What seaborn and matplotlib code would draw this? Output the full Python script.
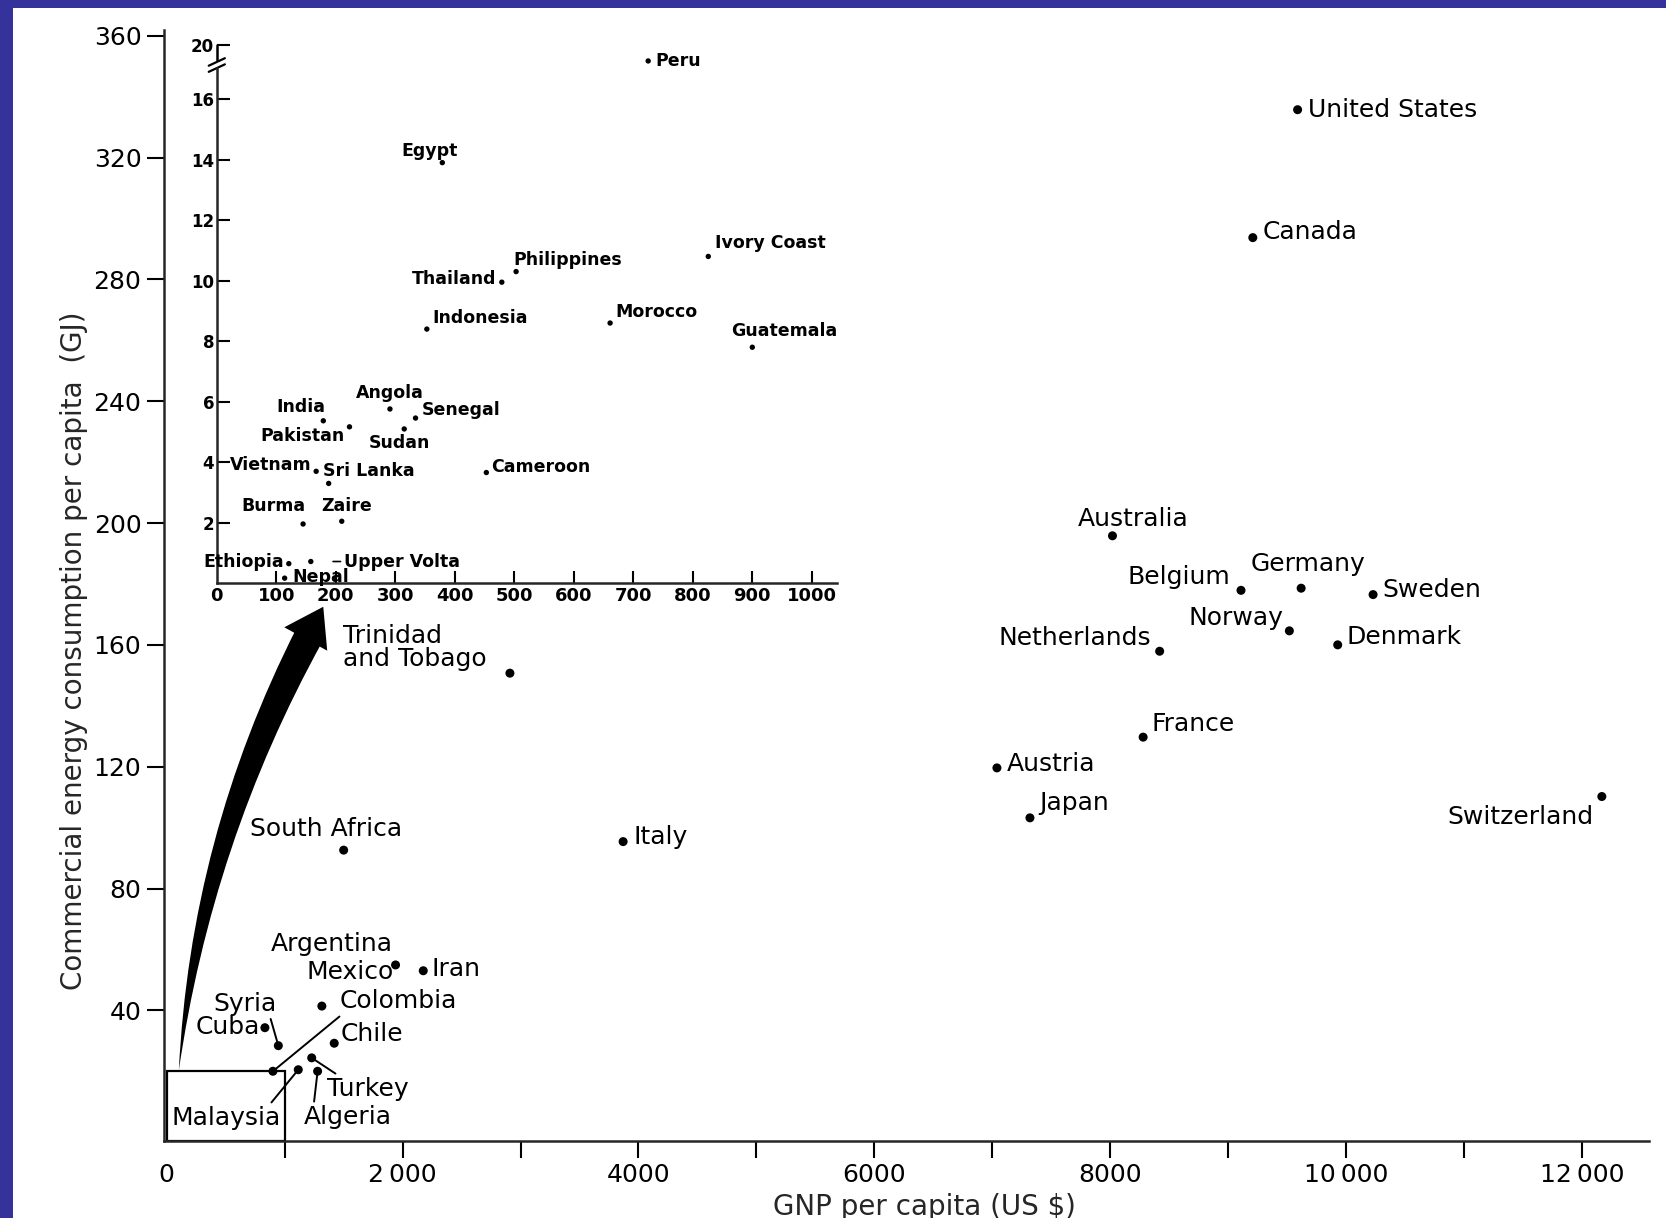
import numpy as np
import pandas as pd
import matplotlib
matplotlib.use("Agg")
import matplotlib.pyplot as plt
import matplotlib.transforms as mtransforms
from matplotlib.patches import Rectangle, FancyArrowPatch
from matplotlib.lines import Line2D
import seaborn as sns

# ---- data: GNP per capita (US $) vs commercial energy use per capita (GJ) ----
main_countries = ["United States", "Canada", "Australia", "Belgium", "Germany", "Sweden",
                  "Norway", "Netherlands", "Denmark", "France", "Austria", "Japan",
                  "Switzerland", "Trinidad\nand Tobago", "Italy", "South Africa",
                  "Argentina", "Iran", "Mexico", "Colombia", "Syria", "Cuba", "Chile",
                  "Turkey", "Algeria", "Malaysia"]
main_gnp = [9590, 9210, 8020, 9110, 9620, 10230, 9520, 8420, 9930, 8280, 7040, 7320,
            12170, 2910, 3870, 1500, 1940, 2175, 1315, 900, 946, 832, 1420, 1229, 1279, 1115]
main_energy = [335.7, 293.7, 195.8, 177.9, 178.6, 176.5, 164.6, 157.9, 160.0, 129.7,
               119.6, 103.2, 110.2, 150.7, 95.4, 92.6, 54.9, 53.0, 41.4, 20.0, 28.4,
               34.3, 29.2, 24.4, 20.0, 20.5]

low_countries = ["Peru", "Egypt", "Ivory Coast", "Philippines", "Thailand", "Indonesia",
                 "Morocco", "Guatemala", "Angola", "Senegal", "India", "Pakistan", "Sudan",
                 "Vietnam", "Sri Lanka", "Cameroon", "Burma", "Zaire", "Ethiopia",
                 "Upper Volta", "Nepal"]
low_gnp = [725, 379, 826, 503, 479, 353, 661, 900, 291, 334, 179, 223, 315, 167, 188,
           453, 145, 210, 121, 158, 114]
low_energy = [18.8, 13.9, 10.8, 10.3, 9.95, 8.4, 8.6, 7.8, 5.76, 5.46, 5.37, 5.17, 5.1,
              3.7, 3.3, 3.66, 1.96, 2.05, 0.65, 0.72, 0.17]

main_xticks = [0, 2000, 4000, 6000, 8000, 10000, 12000]
main_xticklabels = ["0", "2\u2009000", "4000", "6000", "8000", "10\u2009000", "12\u2009000"]
main_yticks = [40, 80, 120, 160, 200, 240, 280, 320, 360]
inset_xticks = list(range(0, 1001, 100))
inset_yticks = [2, 4, 6, 8, 10, 12, 14, 16, 20]

main_df = pd.DataFrame({"country": main_countries, "gnp": main_gnp, "energy": main_energy})
low_df = pd.DataFrame({"country": low_countries, "gnp": low_gnp, "energy": low_energy})

# label placement: offset in pixels from the point, horizontal alignment
main_label_pos = {
    "United States": (10.6, 0, "left"), "Canada": (9.6, 5.3, "left"),
    "Australia": (21, 17, "center"), "Belgium": (-10.6, 13, "right"),
    "Germany": (6.4, 24, "center"), "Sweden": (9.6, 4.3, "left"),
    "Norway": (-6.4, 13, "right"), "Netherlands": (-8.5, 13, "right"),
    "Denmark": (8.5, 7.4, "left"), "France": (8.5, 13, "left"),
    "Austria": (9.6, 4.3, "left"), "Japan": (9.6, 15, "left"),
    "Switzerland": (-8.5, -20, "right"), "Trinidad\nand Tobago": (-167, 26, "left"),
    "Italy": (10.6, 4.3, "left"), "South Africa": (-18, 21, "center"),
    "Argentina": (-64, 21, "center"), "Iran": (8.5, 2, "left"),
    "Mexico": (28.7, 34, "center"), "Colombia": (67, 70, "left"),
    "Syria": (-33, 42, "center"), "Cuba": (-5.3, 1, "right"),
    "Chile": (6.4, 9, "left"), "Turkey": (15, -31, "left"),
    "Algeria": (30.3, -45.6, "center"), "Malaysia": (-72, -48, "center"),
}
main_leaders = {"Colombia": (0.06, 0.12), "Syria": (0.88, 0.05), "Turkey": (0.19, 0.95),
                "Algeria": (0.11, 0.95), "Malaysia": (0.88, 0.95)}

inset_label_pos = {
    "Peru": (7.5, 0, "left"), "Egypt": (-13, 12, "center"),
    "Ivory Coast": (7, 13.4, "left"), "Philippines": (-3, 12, "left"),
    "Thailand": (-5, 3, "right"), "Indonesia": (6, 10.7, "left"),
    "Morocco": (5, 11, "left"), "Guatemala": (-21, 16.6, "left"),
    "Angola": (0, 15.8, "center"), "Senegal": (6, 8, "left"),
    "India": (-22, 14, "center"), "Pakistan": (-5, -8.7, "right"),
    "Sudan": (-4.6, -13.8, "center"), "Vietnam": (-4.6, 6.7, "right"),
    "Sri Lanka": (-5.7, 12.6, "left"), "Cameroon": (4.6, 6, "left"),
    "Burma": (-30, 17.8, "center"), "Zaire": (5, 15, "center"),
    "Ethiopia": (-4.6, 2, "right"), "Upper Volta": (33, 0, "left"),
    "Nepal": (7.5, 1, "left"),
}

BORDER = "#35339b"

sns.set_style("ticks")
plt.rcParams["font.family"] = ["DejaVu Sans"]

W, H = 1666, 1218
fig = plt.figure(figsize=(W / 100, H / 100), dpi=100)
fig.patch.set_facecolor("white")

# ---------------- main panel ----------------
YMIN, YMAX = -2.9, 362
XMIN, XMAX = -27, 12570
ax = fig.add_axes([163.6 / W, 77 / H, (1649 - 163.6) / W, (1188.4 - 77) / H])
ax.set_facecolor("none")
sns.scatterplot(data=main_df, x="gnp", y="energy", ax=ax, color="black", s=42,
                edgecolor="none", zorder=3, legend=False)
ax.set_xlim(XMIN, XMAX)
ax.set_ylim(YMIN, YMAX)
sns.despine(ax=ax)
for side in ("left", "bottom"):
    ax.spines[side].set_linewidth(1.8)

ax.set_xticks(main_xticks)
ax.set_xticklabels(main_xticklabels)
ax.set_xticks([1000, 3000, 5000, 7000, 9000, 11000], minor=True)
ax.set_yticks(main_yticks)
ax.tick_params(axis="both", which="both", direction="out", length=12, width=1.5,
               labelsize=18, pad=4, colors="black")
ax.xaxis.get_major_ticks()[0].tick1line.set_visible(False)

ax.set_xlabel("GNP per capita (US $)", fontsize=20)
ax.xaxis.set_label_coords(0.512, -0.0594)
ax.xaxis.label.set_va("center")
ax.set_ylabel("Commercial energy consumption per capita  (GJ)", fontsize=20)
ax.yaxis.set_label_coords(-0.0603, 0.441)
ax.yaxis.label.set_va("center")

# outline of the region enlarged in the inset
ax.add_patch(Rectangle((0, YMIN), 1000, 20 - YMIN, fill=False, lw=1.6,
                       edgecolor="black", zorder=2))

for name, gx, ey in zip(main_countries, main_gnp, main_energy):
    dx, dy, ha = main_label_pos[name]
    arrow = None
    if name in main_leaders:
        arrow = dict(arrowstyle="-", lw=1.4, color="black", shrinkA=0, shrinkB=3,
                     relpos=main_leaders[name])
    ax.annotate(name, xy=(gx, ey), xytext=(dx, dy), textcoords="offset pixels",
                ha=ha, va="center", fontsize=18, color="black", linespacing=0.95,
                arrowprops=arrow, zorder=4)

# curved arrow pointing from the small box up to the inset
ax.add_patch(FancyArrowPatch(posA=(1220, 164), posB=(100, 19.4),
                             connectionstyle="arc3,rad=0.1",
                             arrowstyle="wedge,tail_width=2.1,shrink_factor=0.62",
                             mutation_scale=10, color="black", lw=0, zorder=3))
ax.add_patch(FancyArrowPatch(posA=(100, 19.4), posB=(1327, 172.5),
                             connectionstyle="arc3,rad=-0.1",
                             arrowstyle="-|>,head_length=2.64,head_width=1.76",
                             mutation_scale=10, color="black", lw=0, zorder=3,
                             shrinkA=0, shrinkB=0))

# ---------------- inset panel (broken scale above 16 GJ) ----------------
def fwd(v):
    v = np.asarray(v, dtype=float)
    return np.where(v <= 16, v, 16 + (v - 16) * 0.45)


def inv(u):
    u = np.asarray(u, dtype=float)
    return np.where(u <= 16, u, 16 + (u - 16) / 0.45)


axi = fig.add_axes([216.8 / W, (H - 583.3) / H, 620 / W, 538.7 / H])
axi.set_facecolor("none")
axi.set_yscale("function", functions=(fwd, inv))
sns.scatterplot(data=low_df, x="gnp", y="energy", ax=axi, color="black", s=15,
                edgecolor="none", zorder=3, legend=False)
axi.set_xlabel("")
axi.set_ylabel("")
axi.set_xlim(0, 1042)
axi.set_ylim(0, 20)
sns.despine(ax=axi)
for side in ("left", "bottom"):
    axi.spines[side].set_linewidth(1.8)
axi.spines["left"].set_bounds(0, 18.25)
axi.set_xticks(inset_xticks)
axi.set_xticklabels([str(v) for v in inset_xticks])
axi.set_yticks(inset_yticks)
axi.set_yticklabels([str(v) for v in inset_yticks])
axi.yaxis.set_minor_locator(matplotlib.ticker.NullLocator())
axi.tick_params(axis="both", which="both", direction="in", length=9, width=1.5,
                labelsize=13, pad=3, colors="black")
axi.tick_params(axis="y", pad=2, labelsize=12)
axi.xaxis.get_major_ticks()[0].tick1line.set_visible(False)
for lbl in axi.get_xticklabels() + axi.get_yticklabels():
    lbl.set_fontweight("bold")

# upper piece of the broken axis and the break marks
btrans = mtransforms.blended_transform_factory(axi.transAxes, axi.transData)
axi.add_line(Line2D([0, 0], [18.85, 20], transform=btrans, color="black", lw=1.8,
                    clip_on=False))
for y0 in (18.0, 18.45):
    axi.add_line(Line2D([-0.013, 0.013], [y0, y0 + 0.55], transform=btrans,
                        color="black", lw=1.6, clip_on=False))

for name, gx, ey in zip(low_countries, low_gnp, low_energy):
    dx, dy, ha = inset_label_pos[name]
    arrow = None
    if name == "Upper Volta":
        arrow = dict(arrowstyle="-", lw=1.2, color="black", shrinkA=0, shrinkB=16,
                     relpos=(0, 0.5))
    axi.annotate(name, xy=(gx, ey), xytext=(dx, dy), textcoords="offset pixels",
                 ha=ha, va="center", fontsize=12.5, fontweight="bold", color="black",
                 arrowprops=arrow, zorder=4, annotation_clip=False)

# page border strips
fig.add_artist(Rectangle((0, 0), 13 / W, 1, transform=fig.transFigure,
                         facecolor=BORDER, edgecolor="none", zorder=10))
fig.add_artist(Rectangle((0, 1 - 7.5 / H), 1, 7.5 / H, transform=fig.transFigure,
                         facecolor=BORDER, edgecolor="none", zorder=10))

fig.savefig("out.png", dpi=100)
